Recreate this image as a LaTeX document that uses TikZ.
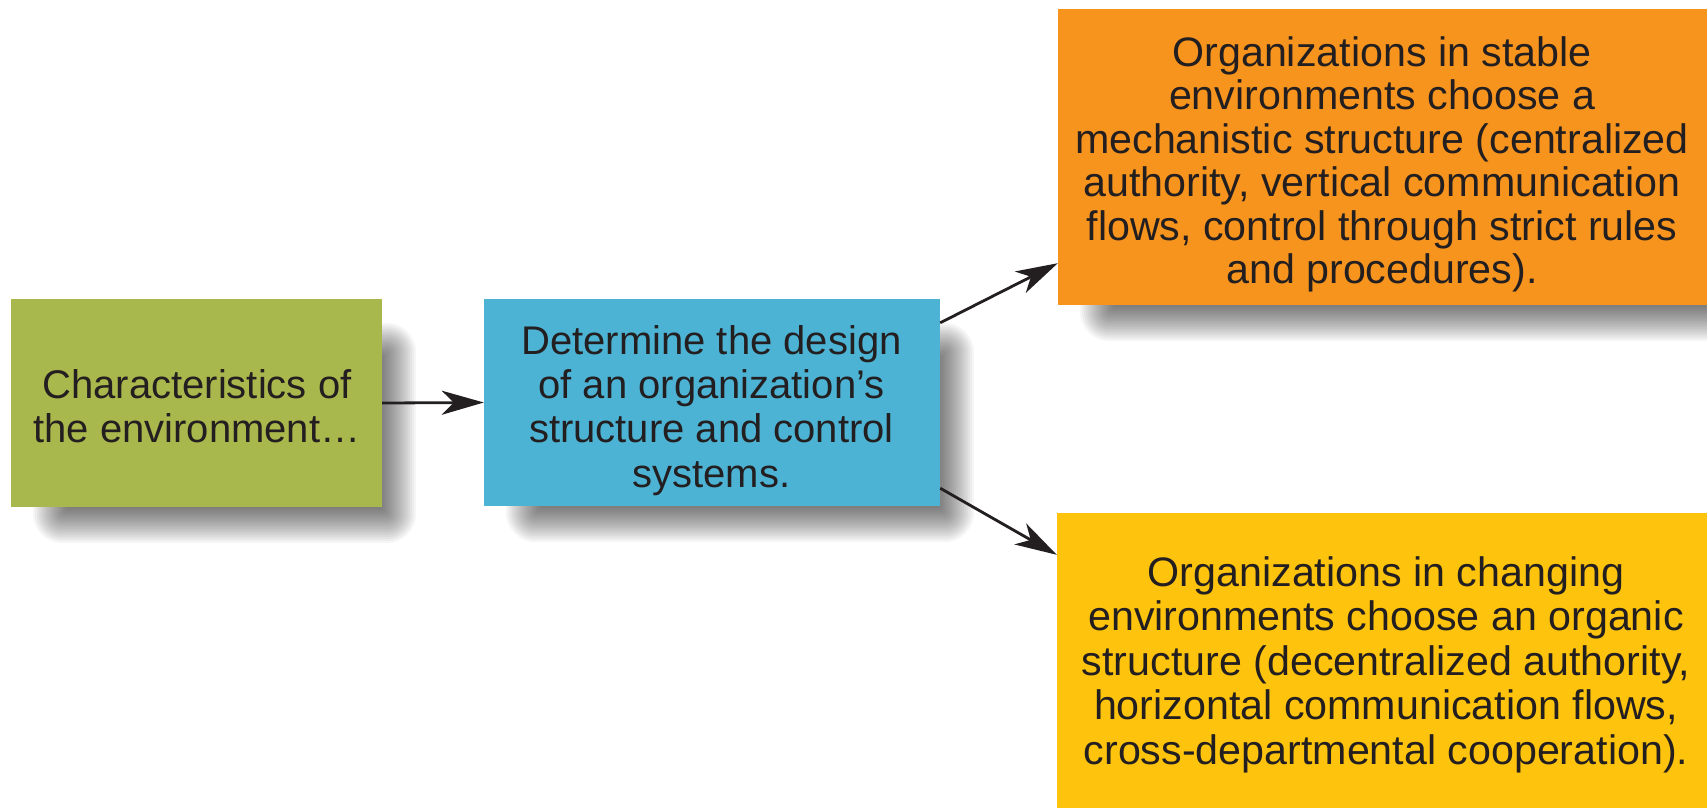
\documentclass[tikz,border=0pt]{standalone}
\usepackage{fontspec}
\setmainfont{Liberation Sans}
\usetikzlibrary{arrows.meta,backgrounds}
\definecolor{cgreen}{HTML}{A8B84C}
\definecolor{cblue}{HTML}{4DB3D4}
\definecolor{corange}{HTML}{F7941E}
\definecolor{cyellow}{HTML}{FDC30D}
\definecolor{ctext}{HTML}{231F20}
\newcommand\topstrut{\rule{0pt}{32pt}}
\newcommand\boxshadow[1]{%
  \foreach \p [evaluate=\p as \ax using {28-\p},
               evaluate=\p as \ay using {30-\p},
               evaluate=\p as \bx using {28+\p},
               evaluate=\p as \by using {30+\p},
               evaluate=\p as \rc using {max(3,24+\p)}] in {6,4,...,-30}
    {\fill[black, fill opacity=0.034, rounded corners=\rc pt]
      ([shift={(\ax,\ay)}]#1.north west) rectangle ([shift={(\bx,\by)}]#1.south east);}}
\begin{document}
\begin{tikzpicture}[x=1pt,y=-1pt,
  box/.style={rectangle, inner sep=0pt},
  txt/.style={anchor=north, inner sep=0pt, align=center, text=ctext},
  arr/.style={line width=2.8pt, draw=ctext, -{Stealth[length=42pt,width=24pt,inset=12pt]}}]
\useasboundingbox (0,0) rectangle (1707,807);
\clip (0,0) rectangle (1707,807);
\node[box, fill=cgreen, minimum width=371pt, minimum height=208pt] (g) at (196.5,403) {};
\node[box, fill=cblue, minimum width=456pt, minimum height=207pt] (b) at (712,402.5) {};
\node[box, fill=corange, minimum width=649pt, minimum height=296pt] (o) at (1382.5,157) {};
\node[box, fill=cyellow, minimum width=650pt, minimum height=340pt] (y) at (1382,683) {};
\begin{scope}[on background layer]
  \fill[white] (0,0) rectangle (1707,807);
  \boxshadow{g}
  \boxshadow{b}
  \boxshadow{o}
  \boxshadow{y}
\end{scope}
\node[txt, font=\fontsize{40}{44.3}\selectfont] (gt) at (197,366)
  {\topstrut Characteristics of\\the environment…};
\node[txt, font=\fontsize{40}{44.3}\selectfont] (bt) at (711.5,322)
  {\topstrut Determine the design\\of an organization’s\\structure and control\\systems.};
\node[txt, font=\fontsize{41.2}{43.5}\selectfont] (ot) at (1382,34)
  {\topstrut Organizations in stable\\environments choose a\\mechanistic structure (centralized\\authority, vertical communication\\flows, control through strict rules\\and procedures).};
\node[txt, font=\fontsize{41.2}{44.5}\selectfont] (yt) at (1386,554)
  {\topstrut Organizations in changing\\environments choose an organic\\structure (decentralized authority,\\horizontal communication flows,\\cross-departmental cooperation).};
\draw[arr] (g.east) -- (b.west);
\draw[arr] ([yshift=-24pt]b.north east) -- ([yshift=42pt]o.south west);
\draw[arr] ([yshift=18pt]b.south east) -- ([yshift=-42pt]y.north west);
\end{tikzpicture}
\end{document}
